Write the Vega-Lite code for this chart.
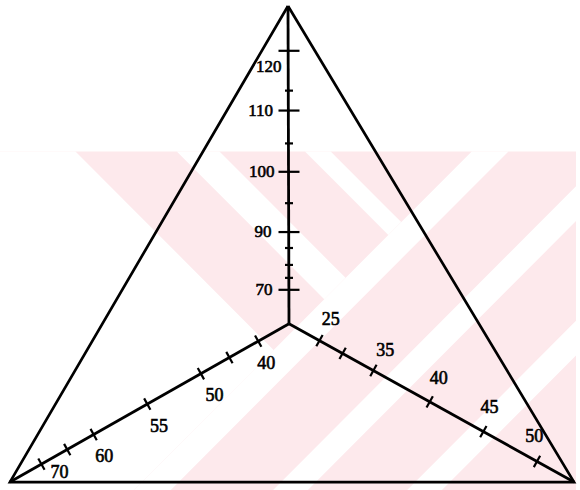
{
  "$schema": "https://vega.github.io/schema/vega-lite/v6.json",
  "width": 580,
  "height": 490,
  "autosize": {"type": "fit", "contains": "padding"},
  "padding": 0,
  "background": "white",
  "config": {"view": {"stroke": null}},
  "datasets": {
    "backdrop": [
      {"x": -291, "x2": 289, "y": 173, "y2": -167}
    ],
    "stripes": [
      {"shape": "w0", "x": -291, "y": 173, "y2": -167},
      {"shape": "w0", "x": -215, "y": 173, "y2": -167},
      {"shape": "w0", "x": -156, "y": 114, "y2": -167},
      {"shape": "w0", "x": -15.5, "y": -26.5, "y2": -26.5},
      {"shape": "s1", "x": -156, "y": -167, "y2": -167},
      {"shape": "s1", "x": -119, "y": -130, "y2": -167},
      {"shape": "s1", "x": 184, "y": 173, "y2": 136},
      {"shape": "s1", "x": 221, "y": 173, "y2": 173},
      {"shape": "g1", "x": -113, "y": 173, "y2": 173},
      {"shape": "g1", "x": -70, "y": 173, "y2": 130},
      {"shape": "g1", "x": 35.5, "y": 67.5, "y2": 24.5},
      {"shape": "g1", "x": 57, "y": 46, "y2": 46},
      {"shape": "g2", "x": 16, "y": 173, "y2": 173},
      {"shape": "g2", "x": 42, "y": 173, "y2": 147},
      {"shape": "g2", "x": 100, "y": 115, "y2": 89},
      {"shape": "g2", "x": 113, "y": 102, "y2": 102},
      {"shape": "s2", "x": -16, "y": -167, "y2": -167},
      {"shape": "s2", "x": 19, "y": -132, "y2": -167},
      {"shape": "s2", "x": 289, "y": 138, "y2": 103},
      {"shape": "s3", "x": 119, "y": -167, "y2": -167},
      {"shape": "s3", "x": 154, "y": -132, "y2": -167},
      {"shape": "s3", "x": 289, "y": 3, "y2": -32}
    ],
    "frame": [
      {"corner": "top", "order": 0, "x": -1, "y": 319},
      {"corner": "bottom right", "order": 1, "x": 287, "y": -159},
      {"corner": "bottom left", "order": 2, "x": -281, "y": -159},
      {"corner": "top", "order": 3, "x": -1, "y": 319}
    ],
    "spokes": [
      {"axis": "vertical", "x": 0, "y": 0, "x2": -1, "y2": 319},
      {"axis": "right", "x": 0, "y": 0, "x2": 287, "y2": -159},
      {"axis": "left", "x": 0, "y": 0, "x2": -281, "y2": -159}
    ],
    "ticks": [
      {"axis": "vertical", "kind": "major", "value": 70, "x": 0, "y": 34},
      {"axis": "vertical", "kind": "minor", "value": null, "x": 0, "y": 46},
      {"axis": "vertical", "kind": "minor", "value": null, "x": 0, "y": 59},
      {"axis": "vertical", "kind": "minor", "value": null, "x": 0, "y": 76},
      {"axis": "vertical", "kind": "major", "value": 90, "x": 0, "y": 92},
      {"axis": "vertical", "kind": "minor", "value": null, "x": 0, "y": 121},
      {"axis": "vertical", "kind": "major", "value": 100, "x": 0, "y": 152.5},
      {"axis": "vertical", "kind": "minor", "value": null, "x": 0, "y": 181},
      {"axis": "vertical", "kind": "major", "value": 110, "x": 0, "y": 214},
      {"axis": "vertical", "kind": "minor", "value": null, "x": 0, "y": 234},
      {"axis": "vertical", "kind": "major", "value": 120, "x": 0, "y": 274},
      {"axis": "right", "kind": "major", "value": 25, "x": 30.7, "y": -17},
      {"axis": "right", "kind": "major", "value": null, "x": 54, "y": -29.8},
      {"axis": "right", "kind": "major", "value": 35, "x": 85, "y": -47},
      {"axis": "right", "kind": "major", "value": 40, "x": 141.7, "y": -78.5},
      {"axis": "right", "kind": "major", "value": 45, "x": 195.7, "y": -108.4},
      {"axis": "right", "kind": "major", "value": 50, "x": 249.7, "y": -138.3},
      {"axis": "left", "kind": "major", "value": 40, "x": -31, "y": -17.5},
      {"axis": "left", "kind": "major", "value": null, "x": -60, "y": -34},
      {"axis": "left", "kind": "major", "value": 50, "x": -88.7, "y": -50.2},
      {"axis": "left", "kind": "major", "value": 55, "x": -142.7, "y": -80.7},
      {"axis": "left", "kind": "major", "value": 60, "x": -196.7, "y": -111.3},
      {"axis": "left", "kind": "major", "value": null, "x": -223.3, "y": -126.4},
      {"axis": "left", "kind": "major", "value": 70, "x": -249.3, "y": -141}
    ],
    "labels": [
      {"axis": "vertical", "text": "70", "x": -16.5, "y": 33.5},
      {"axis": "vertical", "text": "90", "x": -17.5, "y": 92},
      {"axis": "vertical", "text": "100", "x": -14.5, "y": 152},
      {"axis": "vertical", "text": "110", "x": -16, "y": 214},
      {"axis": "vertical", "text": "120", "x": -7.5, "y": 258},
      {"axis": "right", "text": "25", "x": 42, "y": 4},
      {"axis": "right", "text": "35", "x": 97, "y": -27},
      {"axis": "right", "text": "40", "x": 150.7, "y": -55.7},
      {"axis": "right", "text": "45", "x": 202, "y": -85},
      {"axis": "right", "text": "50", "x": 247, "y": -114},
      {"axis": "left", "text": "40", "x": -23, "y": -40},
      {"axis": "left", "text": "50", "x": -75, "y": -72.7},
      {"axis": "left", "text": "55", "x": -131, "y": -104},
      {"axis": "left", "text": "60", "x": -186, "y": -134},
      {"axis": "left", "text": "70", "x": -231, "y": -149.7}
    ]
  },
  "encoding": {
    "x": {"field": "x", "type": "quantitative", "scale": {"domain": [-291, 289], "nice": false, "zero": false}, "axis": null},
    "y": {"field": "y", "type": "quantitative", "stack": null, "scale": {"domain": [-167, 323], "nice": false, "zero": false}, "axis": null}
  },
  "layer": [
    {
      "data": {"name": "backdrop"},
      "mark": {"type": "rect", "fill": "#fde9ec", "stroke": null},
      "encoding": {"x2": {"field": "x2"}, "y2": {"field": "y2"}}
    },
    {
      "data": {"name": "stripes"},
      "mark": {"type": "area", "fill": "white", "opacity": 1, "interpolate": "linear"},
      "encoding": {
        "y2": {"field": "y2"},
        "detail": {"field": "shape", "type": "nominal"}
      }
    },
    {
      "data": {"name": "frame"},
      "mark": {"type": "line", "stroke": "black", "strokeWidth": 2.7, "strokeJoin": "miter"},
      "encoding": {"order": {"field": "order", "type": "quantitative"}}
    },
    {
      "data": {"name": "spokes"},
      "mark": {"type": "rule", "stroke": "black", "strokeWidth": 2.8},
      "encoding": {
        "x2": {"field": "x2"},
        "y2": {"field": "y2"}
      }
    },
    {
      "data": {"name": "ticks"},
      "transform": [{"filter": "datum.axis === 'vertical' && datum.kind === 'major'"}],
      "mark": {"type": "point", "shape": "M-1,0L1,0", "size": 441, "filled": false, "stroke": "black", "strokeWidth": 2.2, "opacity": 1}
    },
    {
      "data": {"name": "ticks"},
      "transform": [{"filter": "datum.axis === 'vertical' && datum.kind === 'minor'"}],
      "mark": {"type": "point", "shape": "M-1,0L1,0", "size": 64, "filled": false, "stroke": "black", "strokeWidth": 2.2, "opacity": 1}
    },
    {
      "data": {"name": "ticks"},
      "transform": [{"filter": "datum.axis === 'right'"}],
      "mark": {"type": "point", "shape": "M0,-1L0,1", "size": 169, "angle": 29, "filled": false, "stroke": "black", "strokeWidth": 2.2, "opacity": 1}
    },
    {
      "data": {"name": "ticks"},
      "transform": [{"filter": "datum.axis === 'left'"}],
      "mark": {"type": "point", "shape": "M0,-1L0,1", "size": 169, "angle": 331, "filled": false, "stroke": "black", "strokeWidth": 2.2, "opacity": 1}
    },
    {
      "data": {"name": "labels"},
      "transform": [{"filter": "datum.axis === 'vertical'"}],
      "mark": {"type": "text", "align": "right", "baseline": "middle", "font": "Liberation Serif", "fontSize": 17, "fill": "black", "stroke": "black", "strokeWidth": 0.6},
      "encoding": {"text": {"field": "text"}}
    },
    {
      "data": {"name": "labels"},
      "transform": [{"filter": "datum.axis !== 'vertical'"}],
      "mark": {"type": "text", "align": "center", "baseline": "middle", "font": "Liberation Serif", "fontSize": 18, "fill": "black", "stroke": "black", "strokeWidth": 0.6},
      "encoding": {"text": {"field": "text"}}
    }
  ]
}
